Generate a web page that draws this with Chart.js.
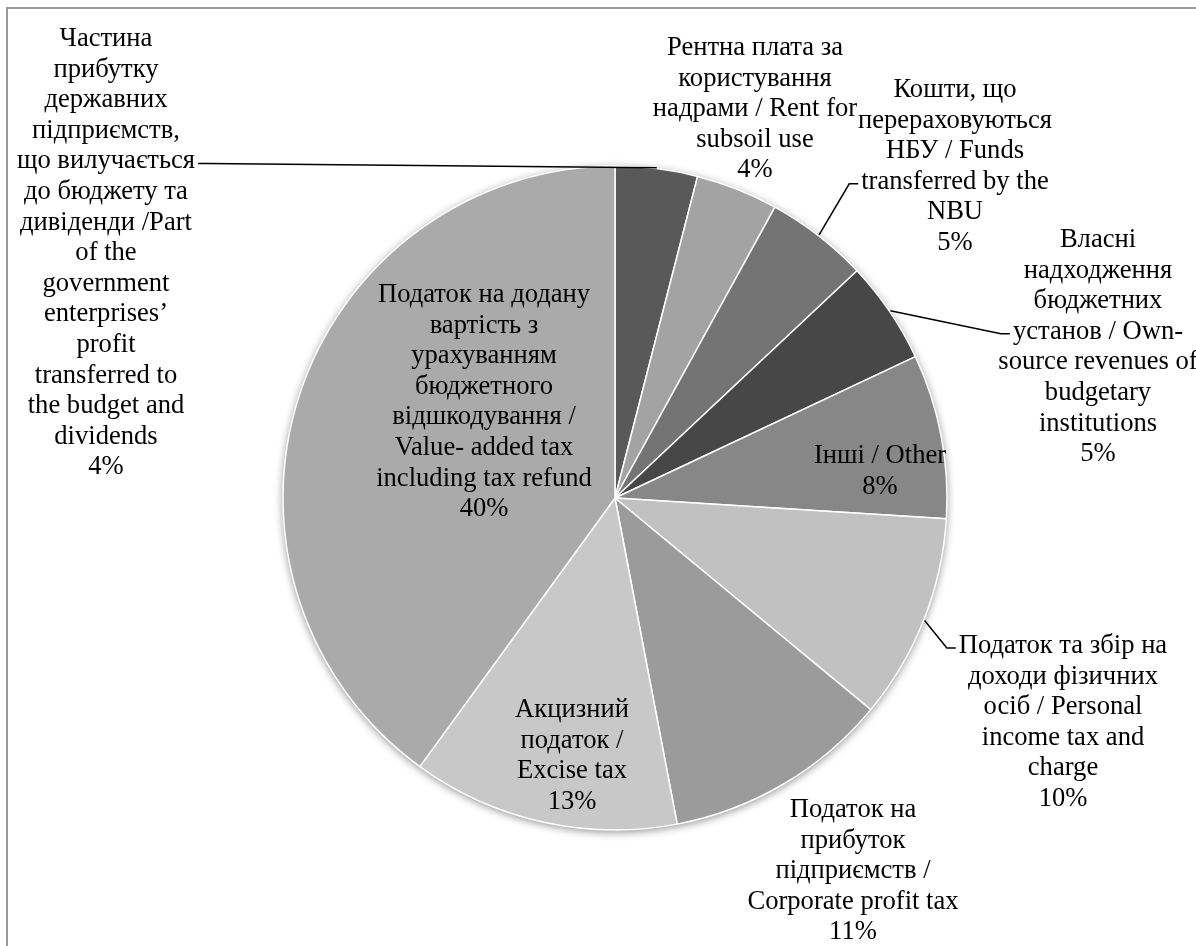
<!DOCTYPE html>
<html>
<head>
<meta charset="utf-8">
<script src="https://cdn.jsdelivr.net/npm/chart.js@4.4.1/dist/chart.umd.min.js"></script>
<style>
    html, body { margin: 0; padding: 0; background: #fff; }
    #wrap { position: relative; width: 1196px; height: 946px; }
</style>
</head>
<body>
<div id="wrap"><canvas id="revenue-pie" width="1196" height="946"></canvas></div>
<script>
// categories, clockwise from 12 o'clock (each entry = the label lines)
const categories = [
    ['Частина', 'прибутку', 'державних', 'підприємств,', 'що вилучається', 'до бюджету та', 'дивіденди /Part', 'of the', 'government', 'enterprises’', 'profit', 'transferred to', 'the budget and', 'dividends'],
    ['Рентна плата за', 'користування', 'надрами / Rent for', 'subsoil use'],
    ['Кошти, що', 'перераховуються', 'НБУ / Funds', 'transferred by the', 'NBU'],
    ['Власні', 'надходження', 'бюджетних', 'установ / Own-', 'source revenues of', 'budgetary', 'institutions'],
    ['Інші / Other'],
    ['Податок та збір на', 'доходи фізичних', 'осіб / Personal', 'income tax and', 'charge'],
    ['Податок на', 'прибуток', 'підприємств /', 'Corporate profit tax'],
    ['Акцизний', 'податок /', 'Excise tax'],
    ['Податок на додану', 'вартість з', 'урахуванням', 'бюджетного', 'відшкодування /', 'Value- added tax', 'including tax refund']
];
const shares = [4, 4, 5, 5, 8, 10, 11, 13, 40];

const sliceColors = ['#595959', '#a3a3a3', '#747474', '#474747', '#878787', '#c1c1c1', '#9b9b9b', '#c8c8c8', '#aaaaaa'];

// where each label block sits (centre x, first line y); lead = line the leader joins
const labelLayout = [
    {x: 106, y: 39, lead: {line: 4, side: 'right'}},
    {x: 755, y: 48},
    {x: 955, y: 90, lead: {line: 3, side: 'left'}},
    {x: 1098, y: 240, lead: {line: 3, side: 'left'}},
    {x: 880, y: 456},
    {x: 1063, y: 646, lead: {line: 0, side: 'left'}},
    {x: 853, y: 810},
    {x: 572, y: 710},
    {x: 484, y: 295}
];

const FONT = '26.6px "Liberation Serif", "Times New Roman", serif';
const LINE_H = 30.6;

const pieShadow = {
    id: 'pieShadow',
    beforeDatasetsDraw: function (chart) {
        const arc = chart.getDatasetMeta(0).data[0];
        if (!arc) return;
        const ctx = chart.ctx;
        ctx.save();
        ctx.shadowColor = 'rgba(0,0,0,0.45)';
        ctx.shadowBlur = 9;
        ctx.shadowOffsetY = 2;
        ctx.fillStyle = '#fff';
        ctx.beginPath();
        ctx.arc(arc.x, arc.y, arc.outerRadius, 0, Math.PI * 2);
        ctx.fill();
        ctx.restore();
    }
};

const frameBorder = {
    id: 'frameBorder',
    beforeDraw: function (chart) {
        const ctx = chart.ctx;
        ctx.save();
        ctx.strokeStyle = '#9a9a9a';
        ctx.lineWidth = 2;
        ctx.beginPath();
        ctx.moveTo(7, chart.height + 5);
        ctx.lineTo(7, 8);
        ctx.lineTo(chart.width + 5, 8);
        ctx.stroke();
        ctx.restore();
    }
};

const sliceLabels = {
    id: 'sliceLabels',
    afterDatasetsDraw: function (chart) {
        const ctx = chart.ctx;
        const arcs = chart.getDatasetMeta(0).data;
        ctx.save();
        ctx.font = FONT;
        ctx.fillStyle = '#000';
        ctx.textAlign = 'center';
        ctx.textBaseline = 'middle';
        arcs.forEach((arc, i) => {
            const pos = labelLayout[i];
            const lines = chart.data.labels[i].concat([shares[i] + '%']);
            lines.forEach((txt, k) => {
                ctx.fillText(txt, pos.x, pos.y + k * LINE_H);
            });
            if (!pos.lead) return;
            const ly = pos.y + pos.lead.line * LINE_H + 2;
            const w = ctx.measureText(lines[pos.lead.line]).width;
            const dir = pos.lead.side === 'left' ? -1 : 1;
            const ax = pos.x + dir * (w / 2 + 3);
            const mid = (arc.startAngle + arc.endAngle) / 2;
            const ex = arc.x + (arc.outerRadius + 1) * Math.cos(mid);
            const ey = arc.y + (arc.outerRadius + 1) * Math.sin(mid);
            ctx.strokeStyle = '#000';
            ctx.lineWidth = 1.5;
            ctx.beginPath();
            ctx.moveTo(ex, ey);
            ctx.lineTo(ax + dir * 9, ly);
            ctx.lineTo(ax, ly);
            ctx.stroke();
        });
        ctx.restore();
    }
};

new Chart(document.getElementById('revenue-pie').getContext('2d'), {
    type: 'pie',
    data: {
        labels: categories,
        datasets: [{
            data: shares,
            backgroundColor: sliceColors,
            borderColor: '#ffffff',
            borderWidth: 1.5
        }]
    },
    options: {
        responsive: false,
        animation: false,
        radius: 332,
        layout: {padding: {left: 34, right: 0, top: 50, bottom: 0}},
        plugins: {
            legend: {display: false},
            tooltip: {enabled: false}
        },
        events: []
    },
    plugins: [frameBorder, pieShadow, sliceLabels]
});
</script>
</body>
</html>
